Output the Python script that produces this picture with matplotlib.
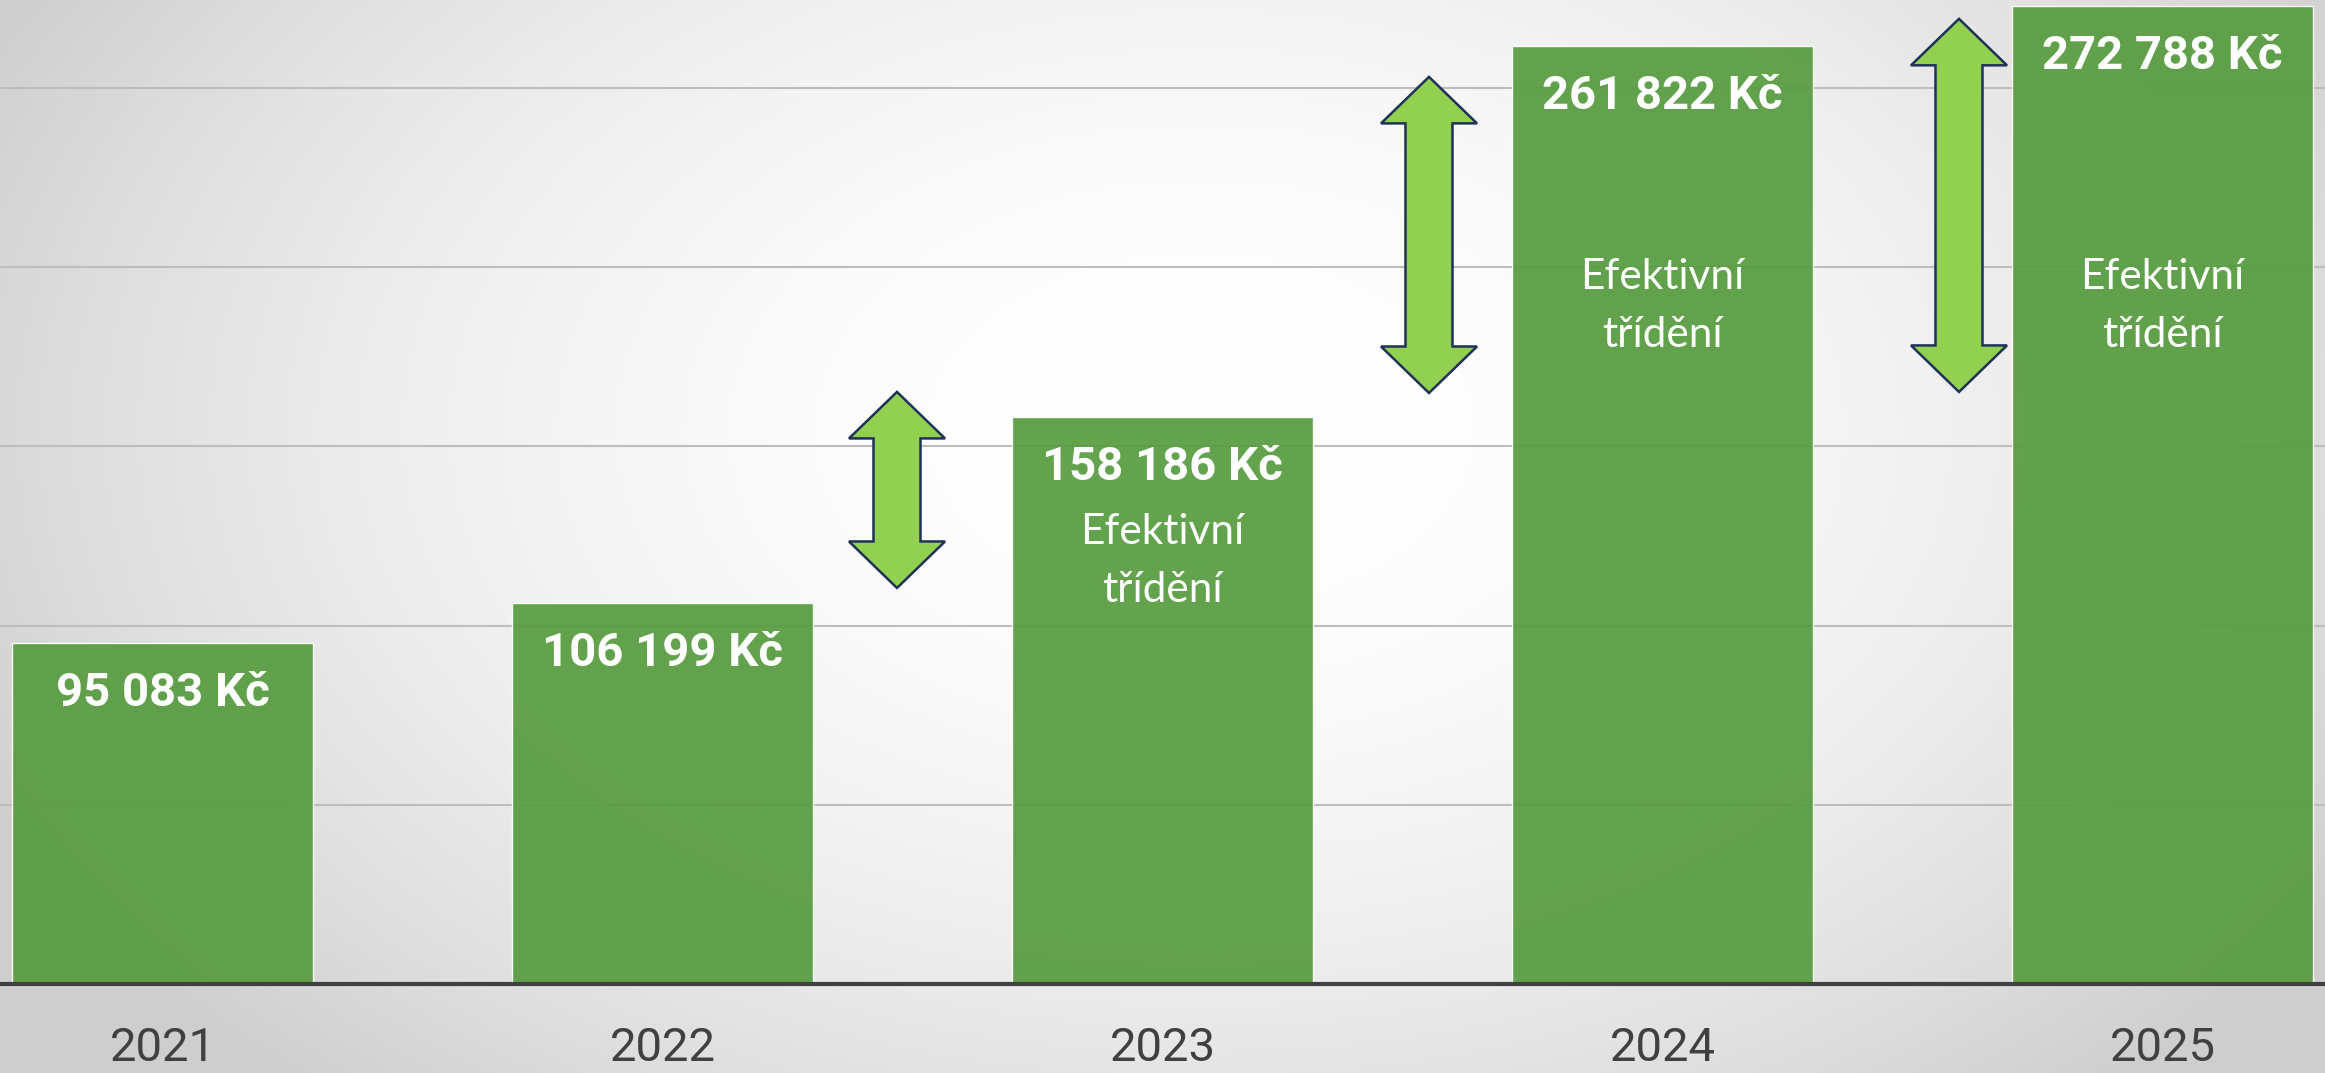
import numpy as np
import matplotlib
matplotlib.use("Agg")
import matplotlib.pyplot as plt
from matplotlib.patches import Polygon

# ---- data ----
years = ["2021", "2022", "2023", "2024", "2025"]
values = [95083, 106199, 158186, 261822, 272788]
value_labels = ["95 083 Kč", "106 199 Kč", "158 186 Kč", "261 822 Kč", "272 788 Kč"]
note_text = ["Efektivní", "třídění"]
note_bars = [2, 3, 4]
note_line1_y = [122800, 193800, 193800]
note_line2_y = [106600, 177700, 177700]
arrow_x = [1.469, 2.533, 3.593]
arrow_y0 = [110500, 164900, 165200]
arrow_y1 = [165200, 253100, 269300]

W, H, DPI = 2325, 1073, 100
fig = plt.figure(figsize=(W / DPI, H / DPI), dpi=DPI)

# background radial gradient
bg = fig.add_axes([0, 0, 1, 1], zorder=0)
yy, xx = np.mgrid[0:H, 0:W]
t2 = ((xx - 1200) / 1350.0) ** 2 + ((yy - 430) / 880.0) ** 2
t2 = np.clip(t2, 0, 1)
val = 1 - 0.19 * t2
img = np.dstack([val, val, val])
bg.imshow(img, extent=[0, W, H, 0], aspect="auto", interpolation="bilinear")
bg.set_axis_off()

base_px = 984
ax = fig.add_axes([0, (H - base_px) / H, 1, base_px / H], zorder=1)
ax.set_facecolor("none")
ymax = base_px / 179.2 * 50000
ax.set_ylim(0, ymax)
ax.set_xlim(-0.325, 4.325)

x = np.arange(len(years))
ax.set_yticks(np.arange(0, 250001, 50000))
ax.yaxis.grid(True, color="#BDBDBD", linewidth=1.5, zorder=0)
ax.set_axisbelow(True)
ax.tick_params(axis="y", length=0, labelleft=False)

ax.bar(x, values, width=0.602, color="#589C40", alpha=0.93,
       edgecolor=(1, 1, 1, 0.45), linewidth=1.0, zorder=2)

for s in ["top", "left", "right"]:
    ax.spines[s].set_visible(False)
ax.spines["bottom"].set_color("#404040")
ax.spines["bottom"].set_linewidth(3)
ax.spines["bottom"].set_zorder(4)

ax.set_xticks(x)
ax.set_xticklabels(years, fontsize=34, color="#404040", family="Roboto")
ax.tick_params(axis="x", length=0, pad=30)

for i, (v, lab) in enumerate(zip(values, value_labels)):
    ax.annotate(lab, xy=(i, v), xytext=(0, -45.4), textcoords="offset points",
                ha="center", va="baseline", color="white", fontsize=34,
                fontweight="bold", family="Roboto", zorder=5)

for b, y1, y2 in zip(note_bars, note_line1_y, note_line2_y):
    ax.text(b, y1, note_text[0], ha="center", va="baseline", color="white",
            fontsize=30.5, family="Lato", zorder=5)
    ax.text(b, y2, note_text[1], ha="center", va="baseline", color="white",
            fontsize=30.5, family="Lato", zorder=5)

# double-headed block arrows
hw, sw = 0.096, 0.047
hl = 46.5 * 50000 / 179.2
for ax_x, y0, y1 in zip(arrow_x, arrow_y0, arrow_y1):
    pts = [
        (ax_x, y1), (ax_x + hw, y1 - hl), (ax_x + sw, y1 - hl),
        (ax_x + sw, y0 + hl), (ax_x + hw, y0 + hl), (ax_x, y0),
        (ax_x - hw, y0 + hl), (ax_x - sw, y0 + hl), (ax_x - sw, y1 - hl),
        (ax_x - hw, y1 - hl),
    ]
    ax.add_patch(Polygon(pts, closed=True, facecolor="#92D050",
                         edgecolor="#1F3158", linewidth=1.8, zorder=6,
                         joinstyle="miter"))

fig.savefig("out.png", dpi=DPI)
